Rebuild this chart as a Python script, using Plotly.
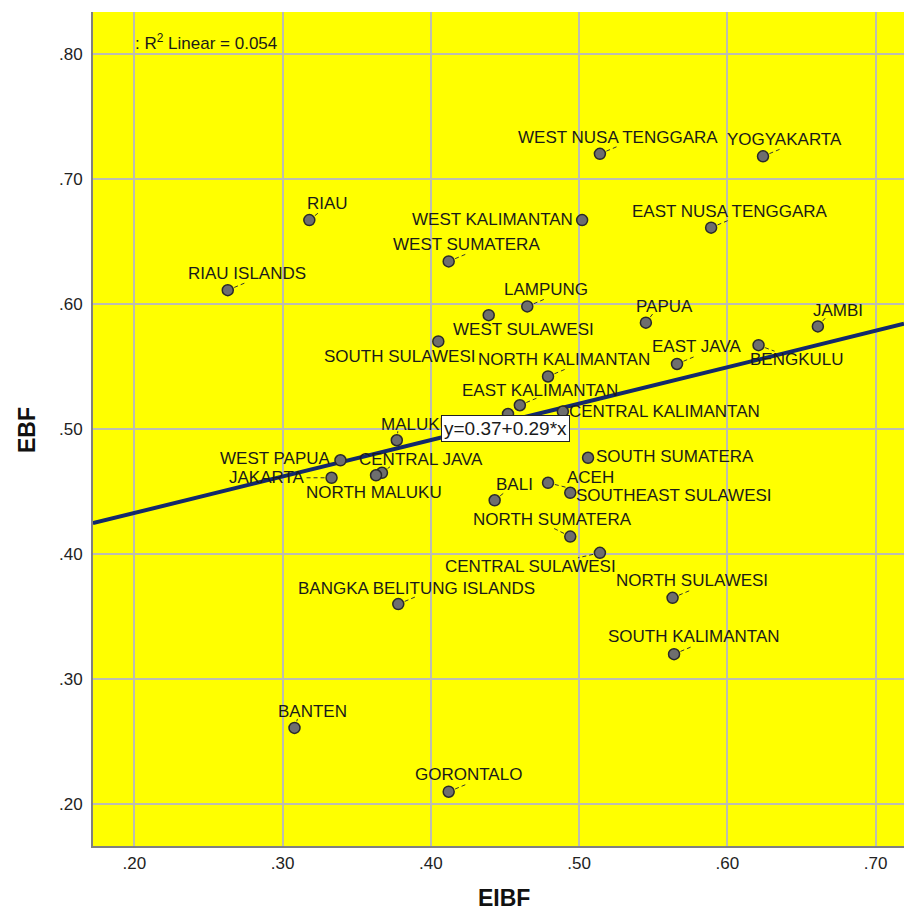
import numpy as np
import plotly.graph_objects as go

# Province-level indicators: early initiation of breastfeeding (EIBF)
# and exclusive breastfeeding (EBF)
provinces = [
    "RIAU ISLANDS", "RIAU", "WEST SUMATERA", "WEST KALIMANTAN", "WEST NUSA TENGGARA",
    "YOGYAKARTA", "EAST NUSA TENGGARA", "LAMPUNG", "WEST SULAWESI", "SOUTH SULAWESI",
    "PAPUA", "JAMBI", "BENGKULU", "EAST JAVA", "NORTH KALIMANTAN",
    "EAST KALIMANTAN", "CENTRAL KALIMANTAN", "WEST JAVA", "MALUKU", "WEST PAPUA",
    "CENTRAL JAVA", "NORTH MALUKU", "JAKARTA", "SOUTH SUMATERA", "ACEH",
    "SOUTHEAST SULAWESI", "BALI", "NORTH SUMATERA", "CENTRAL SULAWESI", "NORTH SULAWESI",
    "SOUTH KALIMANTAN", "BANGKA BELITUNG ISLANDS", "BANTEN", "GORONTALO",
]
eibf = [
    0.263, 0.318, 0.412, 0.502, 0.514,
    0.624, 0.589, 0.465, 0.439, 0.405,
    0.545, 0.661, 0.621, 0.566, 0.479,
    0.460, 0.489, 0.452, 0.377, 0.339,
    0.367, 0.363, 0.333, 0.506, 0.479,
    0.494, 0.443, 0.494, 0.514, 0.563,
    0.564, 0.378, 0.308, 0.412,
]
ebf = [
    0.611, 0.667, 0.634, 0.667, 0.720,
    0.718, 0.661, 0.598, 0.591, 0.570,
    0.585, 0.582, 0.567, 0.552, 0.542,
    0.519, 0.514, 0.512, 0.491, 0.475,
    0.465, 0.463, 0.461, 0.477, 0.457,
    0.449, 0.443, 0.414, 0.401, 0.365,
    0.320, 0.360, 0.261, 0.210,
]
tick_vals = [0.20, 0.30, 0.40, 0.50, 0.60, 0.70, 0.80]
tick_text = [".20", ".30", ".40", ".50", ".60", ".70", ".80"]

# ---- layout geometry -------------------------------------------------------
W, H = 904, 913
ML, MR, MT, MB = 93, 0, 12, 67
PW, PH = W - ML - MR, H - MT - MB
XR = [0.1721, 0.7191]
YR = [0.1666, 0.8334]
FONT = "Liberation Sans, Arial, sans-serif"

def px_dx(p):
    return p * (XR[1] - XR[0]) / PW

def px_dy(p):  # screen pixels (down positive) -> data units
    return -p * (YR[1] - YR[0]) / PH

# label placement: (dx, dy) screen px from point, anchor, leader end (screen px) or None
DEF_LEAD = (19, -8)
label_pos = {
    "RIAU ISLANDS": ((19, -17), "center", DEF_LEAD),
    "RIAU": ((18, -17), "center", (10, -8)),
    "WEST SUMATERA": ((18, -17), "center", DEF_LEAD),
    "WEST KALIMANTAN": ((-7, -1), "right", None),
    "WEST NUSA TENGGARA": ((18, -16), "center", DEF_LEAD),
    "YOGYAKARTA": ((21, -17), "center", DEF_LEAD),
    "EAST NUSA TENGGARA": ((19, -16), "center", DEF_LEAD),
    "LAMPUNG": ((19, -17), "center", DEF_LEAD),
    "WEST SULAWESI": ((35, 14), "center", None),
    "SOUTH SULAWESI": ((-39, 15), "center", None),
    "PAPUA": ((19, -16), "center", (7, -9)),
    "JAMBI": ((20, -16), "center", (8, -9)),
    "BENGKULU": ((38, 14), "center", (16, 6)),
    "EAST JAVA": ((19, -17), "center", DEF_LEAD),
    "NORTH KALIMANTAN": ((16, -17), "center", DEF_LEAD),
    "EAST KALIMANTAN": ((20, -15), "center", DEF_LEAD),
    "CENTRAL KALIMANTAN": ((4, 0), "left", None),
    "MALUKU": ((20, -16), "center", (1, -9)),
    "WEST PAPUA": ((-7, -2), "right", None),
    "CENTRAL JAVA": ((39, -13), "center", (8, -6)),
    "NORTH MALUKU": ((-2, 17), "center", None),
    "JAKARTA": ((-25, 0), "right", (-25, 0)),
    "SOUTH SUMATERA": ((6, -1), "left", None),
    "ACEH": ((42, -5), "center", (24, 6)),
    "SOUTHEAST SULAWESI": ((4, 3), "left", None),
    "BALI": ((20, -16), "center", (10, -8)),
    "NORTH SUMATERA": ((-18, -17), "center", (-18, -9)),
    "CENTRAL SULAWESI": ((18, 14), "right", (-22, 5)),
    "NORTH SULAWESI": ((19, -17), "center", DEF_LEAD),
    "SOUTH KALIMANTAN": ((20, -18), "center", DEF_LEAD),
    "BANGKA BELITUNG ISLANDS": ((18, -16), "center", DEF_LEAD),
    "BANTEN": ((18, -16), "center", (3, -9)),
    "GORONTALO": ((20, -17), "center", DEF_LEAD),
}

# ---- linear fit ------------------------------------------------------------
x = np.array(eibf)
y = np.array(ebf)
slope, intercept = np.polyfit(x, y, 1)
r2 = np.corrcoef(x, y)[0, 1] ** 2
fit_x = np.array(XR)
fit_y = intercept + slope * fit_x

fig = go.Figure()

# leader lines from points to their labels
lx, ly = [], []
for name, xi, yi in zip(provinces, eibf, ebf):
    spec = label_pos.get(name)
    if spec is None or spec[2] is None:
        continue
    ex, ey = spec[2]
    lx += [xi, xi + px_dx(ex), None]
    ly += [yi, yi + px_dy(ey), None]
fig.add_trace(go.Scatter(
    x=lx, y=ly, mode="lines", hoverinfo="skip", showlegend=False,
    line=dict(color="#333333", width=1, dash="4px,3px"),
))

fig.add_trace(go.Scatter(
    x=fit_x, y=fit_y, mode="lines", showlegend=False,
    line=dict(color="#13296b", width=4),
))

fig.add_trace(go.Scatter(
    x=eibf, y=ebf, mode="markers", text=provinces, showlegend=False,
    marker=dict(size=11, color="#6e6e6e", line=dict(color="#2a2a2a", width=1.5)),
))

label_font = dict(family=FONT, size=17, color="#1a1a1a")
annotations = []
for name, xi, yi in zip(provinces, eibf, ebf):
    spec = label_pos.get(name)
    if spec is None:
        continue
    (dx, dy), anchor, _ = spec
    annotations.append(dict(
        x=xi, y=yi, xref="x", yref="y", text=name, showarrow=False,
        xanchor=anchor, yanchor="middle", xshift=dx, yshift=-dy,
        font=label_font,
    ))

# fit equation box
annotations.append(dict(
    x=(505 - ML) / PW, y=(H - MB - 428) / PH, xref="paper", yref="paper",
    text=f"y={intercept:.2f}+{slope:.2f}*x", showarrow=False,
    font=dict(family=FONT, size=19, color="#1a1a1a"),
    bgcolor="white", bordercolor="#222222", borderwidth=1, borderpad=2,
    xanchor="center", yanchor="middle",
))
# R squared note
annotations.append(dict(
    x=(133 - ML) / PW, y=(H - MB - 42) / PH, xref="paper", yref="paper",
    text=f": R<sup>2</sup> Linear = {r2:.3f}", showarrow=False,
    font=dict(family=FONT, size=17, color="#1a1a1a"),
    xanchor="left", yanchor="middle",
))
# axis titles
title_font = dict(family=FONT, size=23, color="#111111")
annotations.append(dict(
    x=(27 - ML) / PW, y=(H - MB - 430) / PH, xref="paper", yref="paper",
    text="<b>EBF</b>", textangle=-90, showarrow=False, font=title_font,
    xanchor="center", yanchor="middle",
))
annotations.append(dict(
    x=(504 - ML) / PW, y=(H - MB - 898) / PH, xref="paper", yref="paper",
    text="<b>EIBF</b>", showarrow=False, font=title_font,
    xanchor="center", yanchor="middle",
))

axis_common = dict(
    tickvals=tick_vals, ticktext=tick_text,
    showgrid=True, gridcolor="#bdbdb0", gridwidth=1.5,
    zeroline=False, showline=True, linecolor="#808080", linewidth=2,
    ticks="", tickfont=dict(family=FONT, size=17, color="#222222"),
)

fig.update_layout(
    width=W, height=H,
    margin=dict(l=ML, r=MR, t=MT, b=MB),
    paper_bgcolor="white", plot_bgcolor="#ffff00",
    xaxis=dict(range=XR, ticklabelstandoff=1, **axis_common),
    yaxis=dict(range=YR, ticklabelstandoff=5, **axis_common),
    annotations=annotations,
    showlegend=False,
)

fig.write_html("out.html")
